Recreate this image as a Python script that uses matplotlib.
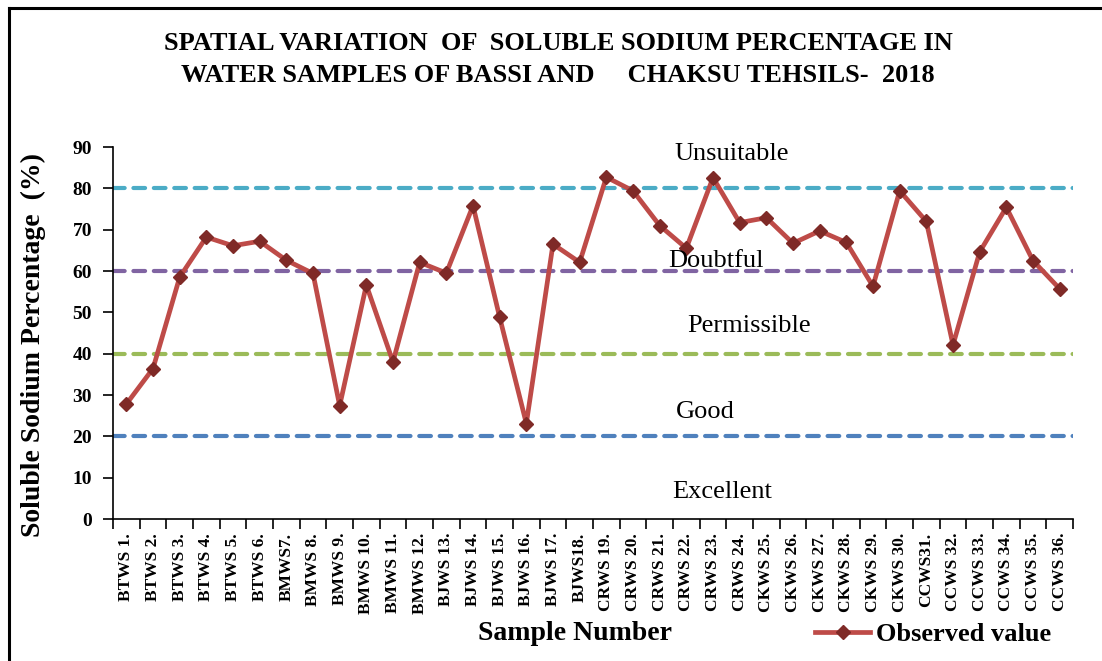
import matplotlib
matplotlib.use("Agg")
import matplotlib.pyplot as plt
from matplotlib.lines import Line2D

plt.rcParams['font.family'] = ['Liberation Serif', 'DejaVu Serif']

samples = ["BTWS 1.", "BTWS 2.", "BTWS 3.", "BTWS 4.", "BTWS 5.", "BTWS 6.",
           "BMWS7.", "BMWS 8.", "BMWS 9.", "BMWS 10.", "BMWS 11.", "BMWS 12.",
           "BJWS 13.", "BJWS 14.", "BJWS 15.", "BJWS 16.", "BJWS 17.", "BJWS18.",
           "CRWS 19.", "CRWS 20.", "CRWS 21.", "CRWS 22.", "CRWS 23.", "CRWS 24.",
           "CKWS 25.", "CKWS 26.", "CKWS 27.", "CKWS 28.", "CKWS 29.", "CKWS 30.",
           "CCWS31.", "CCWS 32.", "CCWS 33.", "CCWS 34.", "CCWS 35.", "CCWS 36."]
observed = [27.8, 36.4, 58.5, 68.2, 66.1, 67.2, 62.6, 59.4, 27.4, 56.6, 38.0, 62.1,
            59.5, 75.8, 48.8, 23.1, 66.5, 62.1, 82.7, 79.4, 71.0, 65.5, 82.6, 71.7,
            72.9, 66.7, 69.7, 66.9, 56.3, 79.4, 72.0, 42.1, 64.6, 75.4, 62.5, 55.7]

limits = [80, 60, 40, 20]
limit_colors = ["#4BACC6", "#8064A2", "#9BBB59", "#4F81BD"]
classes = ["Unsuitable", "Doubtful", "Permissible", "Good", "Excellent"]
class_y = [88.4, 62.3, 46.7, 25.8, 6.5]
class_x = [22.7, 22.1, 23.35, 21.7, 22.35]

W, H = 1102, 661
fig = plt.figure(figsize=(W/100, H/100), dpi=100)
ax = fig.add_axes([113/W, 1-519/H, (1073-113)/W, (519-147)/H])

n = len(samples)
x = list(range(n))
for val, col in zip(limits, limit_colors):
    ax.plot([-0.5, n-0.5], [val, val], color=col, lw=3.0,
            linestyle=(0, (2.8, 2.1)), dash_capstyle='round', zorder=2)

line_color = "#BE4B48"
marker_color = "#7F2A27"
ax.plot(x, observed, color=line_color, lw=3.4, marker='D', markersize=7,
        markerfacecolor=marker_color, markeredgecolor=marker_color, zorder=3,
        label="Observed value")

for txt, xx, yy in zip(classes, class_x, class_y):
    ax.text(xx, yy, txt, fontsize=19, ha='center', va='center', zorder=4)

ax.set_xlim(-0.5, n-0.5)
ax.set_ylim(0, 90)
ax.set_yticks(range(0, 91, 10))
ax.tick_params(axis='y', labelsize=14, length=7, width=1.2, direction='out', pad=8)
for lbl in ax.get_yticklabels():
    lbl.set_fontweight('bold')

ax.set_xticks([i + 0.5 for i in range(-1, n)])
ax.set_xticklabels([])
ax.tick_params(axis='x', which='major', length=7, width=1.2, direction='out')
ax.set_xticks(x, minor=True)
ax.set_xticklabels(samples, minor=True, rotation=90, fontsize=12.5,
                   fontweight='bold')
ax.tick_params(axis='x', which='minor', length=0, pad=10)

for side in ['top', 'right']:
    ax.spines[side].set_visible(False)
ax.spines['left'].set_linewidth(1.2)
ax.spines['bottom'].set_linewidth(1.2)

fig.text(33/W, 1-345/H, "Soluble Sodium Percentage  (%)", rotation=90,
         ha='center', va='center', fontsize=20, fontweight='bold')

fig.text(558/W, 1-44/H, "SPATIAL VARIATION  OF  SOLUBLE SODIUM PERCENTAGE IN",
         ha='center', va='center', fontsize=19, fontweight='bold')
fig.text(558/W, 1-75/H, "WATER SAMPLES OF BASSI AND     CHAKSU TEHSILS-  2018",
         ha='center', va='center', fontsize=19, fontweight='bold')

fig.text(575/W, 1-634/H, "Sample Number", ha='center', va='center',
         fontsize=20, fontweight='bold')

handle = Line2D([], [], color=line_color, lw=3.4, marker='D', markersize=7,
                markerfacecolor=marker_color, markeredgecolor=marker_color)
fig.legend([handle], ["Observed value"], loc='center left', frameon=False,
           bbox_to_anchor=(815/W, 1-634/H), handlelength=2.1,
           borderpad=0, borderaxespad=0, handletextpad=0.2,
           prop={'size': 19, 'weight': 'bold'})

# outer frame (top and left edges visible)
fig.add_artist(Line2D([9/W, 1.0], [1-8/H, 1-8/H], transform=fig.transFigure,
                      color='black', lw=2.2))
fig.add_artist(Line2D([9/W, 9/W], [0.0, 1-8/H], transform=fig.transFigure,
                      color='black', lw=2.2))

fig.savefig("out.png", dpi=100)
